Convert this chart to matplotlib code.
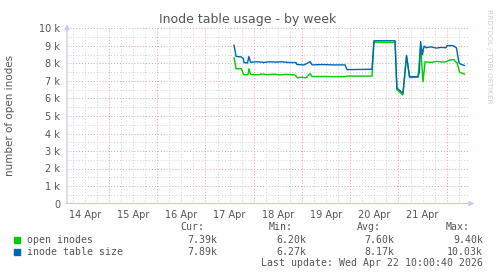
import matplotlib
matplotlib.use("Agg")
import matplotlib.pyplot as plt
from matplotlib.patches import Rectangle

# horas desde el 14 Apr 00:00
dias = ['14 Apr', '15 Apr', '16 Apr', '17 Apr', '18 Apr', '19 Apr', '20 Apr', '21 Apr']

horas_abiertos = [86.2, 87.2, 89.9, 90.9, 93.1, 93.6, 94.4, 98.0, 100.0, 103.0, 106.0,
                  109.0, 112.0, 116.5, 117.8, 120.0, 122.0, 124.0, 125.0, 130.0, 135.0,
                  141.4, 142.4, 154.8, 155.8, 166.3, 167.2, 169.2, 170.2, 172.0, 173.5,
                  177.7, 179.0, 180.2, 181.2, 184.0, 187.0, 190.0, 191.6, 193.6, 195.6,
                  196.4, 197.1, 198.4, 199.6, 200.8]
abiertos = [8320, 7700, 7700, 7360, 7360, 7700, 7380, 7350, 7400, 7360, 7390,
            7350, 7380, 7350, 7180, 7220, 7180, 7420, 7250, 7260, 7250,
            7250, 7280, 7280, 9220, 9200, 6500, 6300, 6200, 8400, 7200,
            7220, 9050, 6950, 8100, 8060, 8120, 8080, 8100, 8200, 8220,
            8100, 8050, 7500, 7450, 7390]

horas_tabla = [86.2, 87.2, 89.7, 90.7, 91.2, 92.9, 93.6, 94.4, 98.0, 101.0, 104.0,
               107.0, 110.0, 113.0, 117.0, 117.5, 121.0, 124.0, 125.0, 130.0, 136.0,
               141.4, 142.4, 154.8, 155.8, 166.3, 167.2, 169.2, 170.2, 170.7, 172.0,
               173.5, 177.7, 178.4, 179.0, 179.9, 180.7, 181.7, 184.0, 187.0, 189.0,
               191.6, 192.1, 195.1, 196.1, 196.8, 198.1, 199.1, 200.8]
tabla = [9050, 8400, 8380, 8300, 8050, 8030, 8400, 8070, 8100, 8060, 8100,
         8080, 8100, 8060, 8050, 7940, 7920, 8100, 7920, 7940, 7920,
         7920, 7650, 7670, 9300, 9300, 6600, 6400, 6300, 6900, 8470,
         7250, 7250, 7500, 9250, 8500, 9000, 8900, 8950, 8880, 8920,
         8900, 9020, 9020, 8950, 8900, 8050, 7950, 7890]

leyenda = [('open inodes', '#00cc00', '7.39k', '6.20k', '7.60k', '9.40k'),
           ('inode table size', '#0066b3', '7.89k', '6.27k', '8.17k', '10.03k')]

W, H = 497, 276
fig = plt.figure(figsize=(W / 100, H / 100), dpi=100)
fig.patch.set_facecolor('white')

x0, x1, ytop, ybot = 67, 469, 28.5, 203.5
ax = fig.add_axes([x0 / W, (H - ybot) / H, (x1 - x0) / W, (ybot - ytop) / H])
px_h = 2.0104
h_min = (x0 - 60.75) / px_h
h_max = (x1 - 60.75) / px_h
ax.set_xlim(h_min, h_max)
ax.set_ylim(0, 10000)
for s in ax.spines.values():
    s.set_visible(False)

# rejilla
for v in range(500, 10001, 500):
    if v % 1000 == 0:
        ax.axhline(v, color='#e8a0a0', lw=0.7, ls=(0, (1, 2)), zorder=1)
    else:
        ax.axhline(v, color='#d0d0d0', lw=0.7, ls=(0, (1, 2)), zorder=1)
h = 6
while h < h_max:
    if h % 24 == 0:
        ax.axvline(h, color='#e8a0a0', lw=0.7, ls=(0, (1, 2)), zorder=1)
    else:
        ax.axvline(h, color='#d0d0d0', lw=0.7, ls=(0, (1, 2)), zorder=1)
    h += 6

# ejes con flecha
eje = '#c8c8f5'
ax.annotate('', xy=(1.02, 0), xytext=(-0.01, 0), xycoords='axes fraction',
            arrowprops=dict(arrowstyle='-|>', color=eje, lw=0.9, mutation_scale=7))
ax.annotate('', xy=(0, 1.04), xytext=(0, -0.01), xycoords='axes fraction',
            arrowprops=dict(arrowstyle='-|>', color=eje, lw=0.9, mutation_scale=7))

ax.plot(horas_abiertos, abiertos, color='#00cc00', lw=1.0, zorder=3)
ax.plot(horas_tabla, tabla, color='#0066b3', lw=1.0, zorder=4)

ax.set_yticks(range(0, 10001, 1000))
ax.set_yticklabels(['0'] + ['%d k' % k for k in range(1, 11)])
ax.set_xticks([12 + 24 * i for i in range(len(dias))])
ax.set_xticklabels(dias)
ax.tick_params(axis='both', length=0, labelsize=7, colors='#555555', pad=5)

fig.text(10 / W, 1 - 115 / H, 'number of open inodes', ha='center', va='center',
         rotation=90, fontsize=7.5, color='#555555')
fig.text(248 / W, 1 - 19 / H, 'Inode table usage - by week', ha='center', va='center',
         fontsize=9, color='#555555')
fig.text(489 / W, 1 - 56 / H, 'RRDTOOL / TOBI OETIKER', ha='center', va='center',
         rotation=270, fontsize=5.3, color='#cccccc')

# leyenda
mono = dict(family='DejaVu Sans Mono', fontsize=7.1, color='#555555', va='center')
col_x = [204, 293, 381, 470]
val_x = [217, 306, 394, 483]
for cx, t in zip(col_x, ['Cur:', 'Min:', 'Avg:', 'Max:']):
    fig.text(cx / W, 1 - 227 / H, t, ha='right', **mono)
for i, (nombre, color, *vals) in enumerate(leyenda):
    y = 240 + 12 * i
    fig.add_artist(Rectangle((14 / W, 1 - (y + 3) / H), 6 / W, 6 / H,
                             transform=fig.transFigure, color=color))
    fig.text(27 / W, 1 - y / H, nombre, ha='left', **mono)
    for vx, v in zip(val_x, vals):
        fig.text(vx / W, 1 - y / H, v, ha='right', **mono)
fig.text(483 / W, 1 - 263 / H, 'Last update: Wed Apr 22 10:00:40 2026', ha='right', **mono)

plt.savefig('out.png', dpi=100)
plt.close()
